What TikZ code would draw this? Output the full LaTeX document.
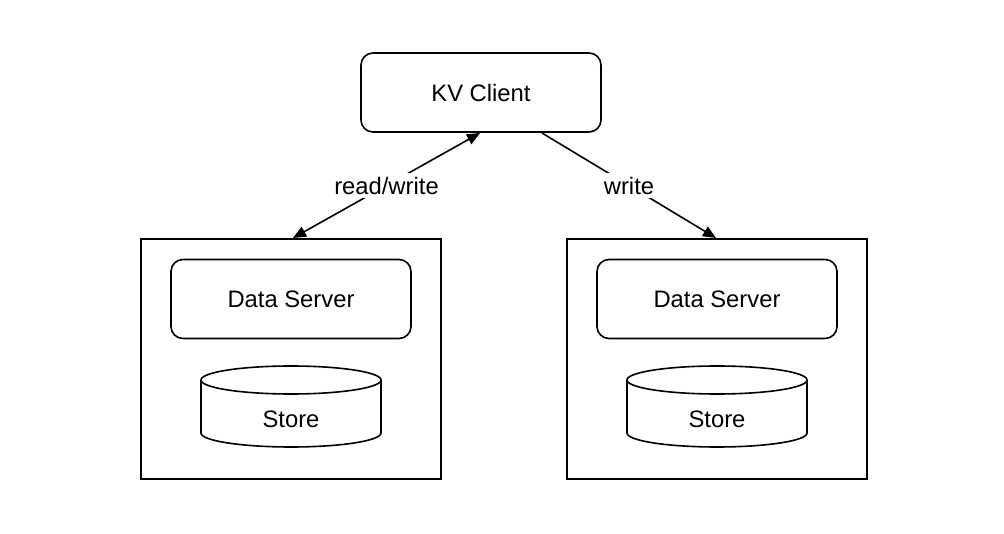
\documentclass[tikz,border=0pt]{standalone}
\usepackage{fontspec}
\setmainfont{Liberation Sans}
\usetikzlibrary{arrows.meta}
\begin{document}
\begin{tikzpicture}[x=1pt,y=-1pt,
  every node/.style={font=\fontsize{23.8}{28}\selectfont},
  rbox/.style={draw,line width=1.6pt,rounded corners=12pt,minimum width=240pt,minimum height=79pt,inner sep=0pt},
  outer/.style={draw,line width=1.6pt,minimum width=300pt,minimum height=240pt,inner sep=0pt},
  cyl/.style={line width=1.6pt},
  conn/.style={line width=1.6pt,-{Triangle[length=13pt,width=11pt]}},
  lbl/.style={fill=white,inner sep=4pt}]
\useasboundingbox[fill=white] (0,0) rectangle (1004,534);
\node[rbox] (kv) at (481,92.5) {KV Client};
\node[outer] (L) at (291,359) {};
\node[outer] (R) at (717,359) {};
\node[rbox] (dsL) at (291,299) {Data Server};
\node[rbox] (dsR) at (717,299) {Data Server};
\foreach \cx/\nm in {291/stL,717/stR}{
  \draw[cyl] (\cx-90,380) arc[start angle=180,end angle=540,x radius=90pt,y radius=14pt];
  \draw[cyl] (\cx-90,380) -- (\cx-90,433)
    arc[start angle=180,end angle=360,x radius=90pt,y radius=14pt] -- (\cx+90,380);
  \node (\nm) at (\cx,419) {Store};
}
\coordinate (a1) at (480,133);
\coordinate (a2) at (293,238);
\coordinate (b1) at (542,133);
\coordinate (b2) at (716,238);
\draw[line width=1.6pt,{Triangle[length=13pt,width=11pt]}-{Triangle[length=13pt,width=11pt]}] (a1) -- node[lbl] {read/write} (a2);
\draw[conn] (b1) -- node[lbl] {write} (b2);
\end{tikzpicture}
\end{document}
